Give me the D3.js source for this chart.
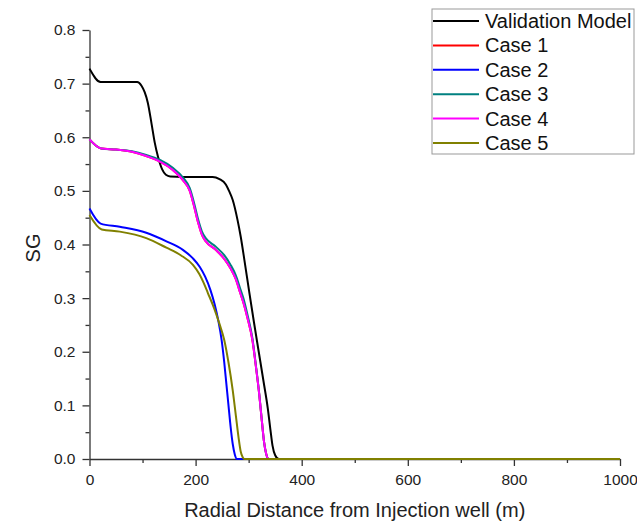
<!DOCTYPE html>
<html lang="en">
<head>
    <meta charset="UTF-8">
    <title>SG vs Radial Distance</title>
    <style>
        body {
            margin: 0;
            padding: 0;
            background-color: #fff;
            font-family: Arial, 'Liberation Sans', sans-serif;
        }
        .axis path, .axis line {
            stroke: #333;
            stroke-width: 1.3px;
        }
        .axis text {
            font-size: 15.5px;
            fill: #222;
            font-family: Arial, 'Liberation Sans', sans-serif;
        }
        .title {
            font-size: 20px;
            fill: #222;
        }
        .legend-text {
            font-size: 20px;
            fill: #111;
        }
        .series {
            fill: none;
            stroke-width: 2px;
        }
    </style>
</head>
<body>
    <div id="chart"></div>

    <script src="https://d3js.org/d3.v7.min.js"></script>
    <script>
        // series names and colours (legend order)
        const seriesNames = ["Validation Model", "Case 1", "Case 2", "Case 3", "Case 4", "Case 5"];
        const seriesColors = ["#000000", "#ff0000", "#0000ff", "#008080", "#ff00ff", "#808000"];

        // distances (m) and gas saturation for each curve
        const valX  = [0, 21, 60, 90, 98, 104, 110, 117, 123, 129, 137, 144, 152, 200, 232, 245, 257, 263, 270, 279, 285, 292, 301, 310, 319, 328, 336, 341, 345, 350, 357, 1000];
        const valSG = [0.728, 0.703, 0.703, 0.703, 0.696, 0.684, 0.664, 0.625, 0.590, 0.564, 0.540, 0.530, 0.527, 0.526, 0.526, 0.522, 0.512, 0.500, 0.483, 0.446, 0.415, 0.371, 0.312, 0.255, 0.200, 0.145, 0.095, 0.055, 0.025, 0.007, 0, 0];

        const case1X  = [0, 22, 50, 80, 107, 132, 157, 176, 189, 197, 205, 212, 219, 238, 254, 266, 276, 284, 290, 298, 307, 314, 320, 325, 329, 333, 338, 1000];
        const case1SG = [0.596, 0.579, 0.577, 0.573, 0.565, 0.555, 0.539, 0.520, 0.500, 0.472, 0.440, 0.418, 0.406, 0.390, 0.373, 0.355, 0.335, 0.310, 0.292, 0.262, 0.222, 0.170, 0.120, 0.070, 0.032, 0.010, 0, 0];

        const case2X  = [0, 21, 57, 107, 145, 176, 195, 208, 218, 228, 236, 243, 249, 254, 258, 262, 266, 270, 274, 278, 1000];
        const case2SG = [0.467, 0.439, 0.433, 0.422, 0.406, 0.390, 0.374, 0.358, 0.340, 0.315, 0.288, 0.257, 0.222, 0.180, 0.140, 0.100, 0.060, 0.028, 0.008, 0, 0];

        const case3X  = [0, 22, 50, 80, 107, 132, 157, 176, 189, 197, 205, 212, 219, 238, 254, 266, 276, 284, 290, 298, 307, 314, 320, 325, 329, 333, 338, 1000];
        const case3SG = [0.596, 0.579, 0.577, 0.574, 0.567, 0.558, 0.543, 0.525, 0.505, 0.478, 0.446, 0.424, 0.412, 0.396, 0.380, 0.362, 0.342, 0.318, 0.300, 0.268, 0.226, 0.172, 0.121, 0.070, 0.032, 0.010, 0, 0];

        const case4X  = [0, 22, 50, 80, 107, 132, 157, 176, 189, 197, 205, 212, 219, 238, 254, 266, 276, 284, 290, 298, 307, 314, 320, 325, 329, 333, 338, 1000];
        const case4SG = [0.596, 0.579, 0.577, 0.573, 0.565, 0.555, 0.539, 0.520, 0.500, 0.472, 0.440, 0.418, 0.406, 0.390, 0.373, 0.355, 0.335, 0.310, 0.292, 0.262, 0.222, 0.170, 0.120, 0.070, 0.032, 0.010, 0, 0];

        const case5X  = [0, 23, 57, 107, 145, 172, 195, 207, 215, 223, 235, 245, 254, 262, 270, 276, 281, 285, 289, 292, 1000];
        const case5SG = [0.455, 0.428, 0.424, 0.412, 0.394, 0.380, 0.362, 0.345, 0.329, 0.310, 0.281, 0.252, 0.222, 0.180, 0.128, 0.080, 0.040, 0.014, 0.003, 0, 0];

        // axis ticks
        const xTicks = [0, 200, 400, 600, 800, 1000];
        const xMinorTicks = [100, 300, 500, 700, 900];
        const yTicks = [0, 0.1, 0.2, 0.3, 0.4, 0.5, 0.6, 0.7, 0.8];
        const yMinorTicks = [0.05, 0.15, 0.25, 0.35, 0.45, 0.55, 0.65, 0.75];

        const allX = [valX, case1X, case2X, case3X, case4X, case5X];
        const allSG = [valSG, case1SG, case2SG, case3SG, case4SG, case5SG];

        const width = 637, height = 525;

        const svg = d3.select("#chart").append("svg")
            .attr("width", width)
            .attr("height", height);

        const x = d3.scaleLinear().domain([0, 1000]).range([89.5, 620]);
        const y = d3.scaleLinear().domain([0, 0.8]).range([459, 30]);

        // minor ticks
        svg.append("g")
            .attr("class", "axis")
            .attr("transform", `translate(0,${y(0)})`)
            .call(d3.axisBottom(x).tickValues(xMinorTicks).tickSize(4).tickFormat(""))
            .select(".domain").remove();

        svg.append("g")
            .attr("class", "axis")
            .attr("transform", `translate(${x(0)},0)`)
            .call(d3.axisLeft(y).tickValues(yMinorTicks).tickSize(4).tickFormat(""))
            .select(".domain").remove();

        // major axes
        svg.append("g")
            .attr("class", "axis")
            .attr("transform", `translate(0,${y(0)})`)
            .call(d3.axisBottom(x).tickValues(xTicks).tickSize(7).tickSizeOuter(0).tickPadding(8).tickFormat(d3.format("d")));

        svg.append("g")
            .attr("class", "axis")
            .attr("transform", `translate(${x(0)},0)`)
            .call(d3.axisLeft(y).tickValues(yTicks).tickSize(7).tickSizeOuter(0).tickPadding(7).tickFormat(d3.format(".1f")));

        // curves
        const line = d3.line()
            .x(d => x(d[0]))
            .y(d => y(d[1]))
            .curve(d3.curveMonotoneX);

        seriesNames.forEach((name, i) => {
            const pts = allX[i].map((v, j) => [v, allSG[i][j]]);
            svg.append("path")
                .datum(pts)
                .attr("class", "series")
                .attr("stroke", seriesColors[i])
                .attr("d", line);
        });

        // axis titles
        svg.append("text")
            .attr("class", "title")
            .attr("x", (x(0) + x(1000)) / 2)
            .attr("y", 517)
            .attr("text-anchor", "middle")
            .text("Radial Distance from Injection well (m)");

        svg.append("text")
            .attr("class", "title")
            .attr("transform", "translate(40,248) rotate(-90)")
            .attr("text-anchor", "middle")
            .text("SG");

        // legend
        const legend = svg.append("g").attr("transform", "translate(432,9)");
        legend.append("rect")
            .attr("width", 202)
            .attr("height", 145)
            .attr("fill", "#fff")
            .attr("stroke", "#999")
            .attr("stroke-width", 1);

        seriesNames.forEach((name, i) => {
            const cy = 12 + i * 24.4;
            legend.append("line")
                .attr("x1", 1).attr("x2", 47)
                .attr("y1", cy).attr("y2", cy)
                .attr("stroke", seriesColors[i])
                .attr("stroke-width", 2);
            legend.append("text")
                .attr("class", "legend-text")
                .attr("x", 53)
                .attr("y", cy + 7)
                .text(name);
        });
    </script>
</body>
</html>
